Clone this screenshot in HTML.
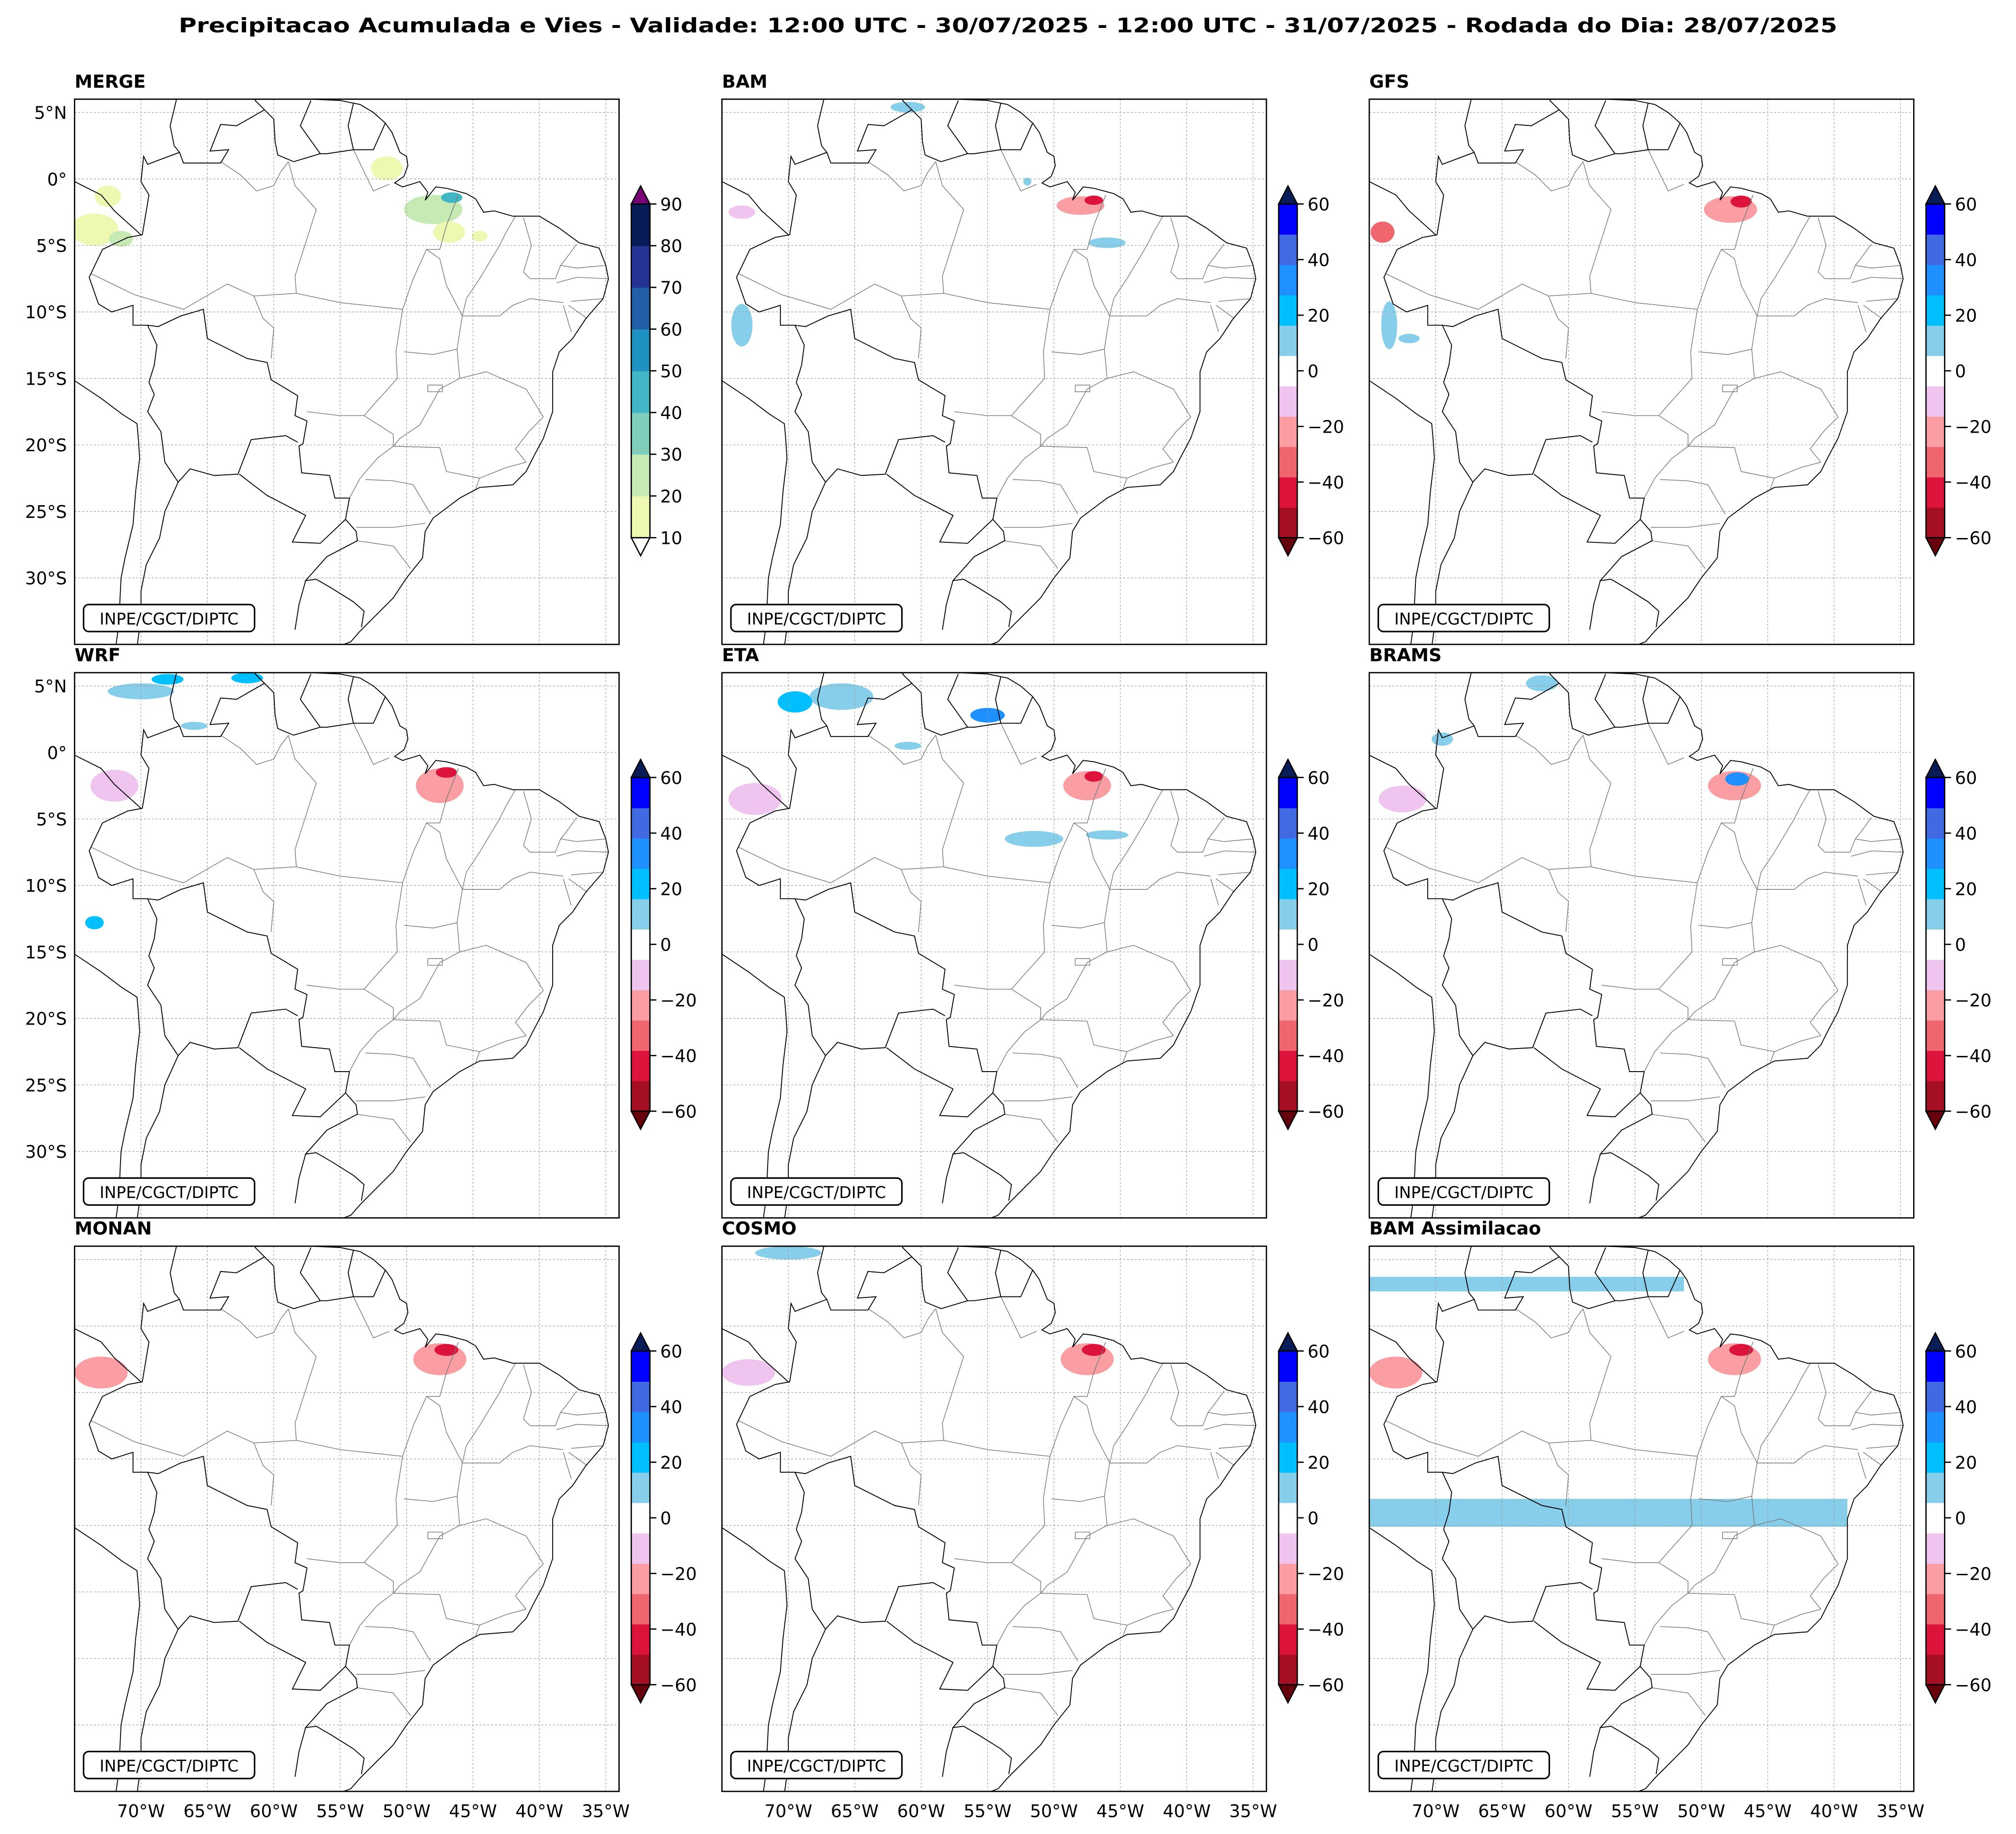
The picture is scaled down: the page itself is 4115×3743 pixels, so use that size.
<!DOCTYPE html>
<html><head><meta charset="utf-8"><style>
html,body{margin:0;padding:0;background:#fff}
svg{display:block}
text{font-family:"DejaVu Sans","Liberation Sans",sans-serif}
</style></head><body>
<svg id="fig" xmlns="http://www.w3.org/2000/svg" width="4115" height="3743" viewBox="0 0 1568 1426">
<rect width="1568" height="1426" fill="#fff"/>
<text x="784" y="25" text-anchor="middle" font-weight="bold" font-size="15.5" textLength="1290" lengthAdjust="spacingAndGlyphs">Precipitacao Acumulada e Vies - Validade: 12:00 UTC - 30/07/2025 - 12:00 UTC - 31/07/2025 - Rodada do Dia: 28/07/2025</text>
<defs id="defs"></defs>
<g id="panels"></g>
</svg>
<script>
const panelNames = ["MERGE","BAM","GFS","WRF","ETA","BRAMS","MONAN","COSMO","BAM Assimilacao"];
const mergeLevels = [10,20,30,40,50,60,70,80,90];
const mergeColors = ["#edf8b1","#c7e9b4","#7fcdbb","#41b6c4","#1d91c0","#225ea8","#253494","#081d58"];
const biasLevels = [-60,-50,-40,-30,-20,-10,10,20,30,40,50,60];
const biasTicks = [60,40,20,0,-20,-40,-60];
const biasColors = ["#a50f24","#dc143c","#f0666e","#fa9ea3","#efc5ef","#ffffff","#87ceeb","#00bfff","#1e90ff","#4169e1","#0000ff"];
const latTicks = [5,0,-5,-10,-15,-20,-25,-30];
const lonTicks = [-70,-65,-60,-55,-50,-45,-40,-35];

const LON0=-75, LON1=-34, LAT0=-35, LAT1=6;
const W=423.5, H=424;
const colX=[58,561.5,1065], rowY=[77,523,969];
const K=W/(LON1-LON0), KY=H/(LAT1-LAT0);
function gx(lon){return (lon-LON0)*K;}
function gy(lat){return (LAT1-lat)*KY;}

const coast=[[-57.2,6],[-55,5.9],[-53.5,5.6],[-52.5,5],[-51.6,4.2],[-51.1,3.5],[-50.5,2],[-50,1.7],[-49.9,1],[-50.2,0.2],[-50.9,-0.3],[-50.3,-0.6],[-49,-0.2],[-48.4,-1],[-48.6,-1.6],[-47.8,-0.6],[-47,-0.7],[-45.5,-1.1],[-44.8,-1.5],[-44.2,-2.5],[-43.4,-2.4],[-42,-2.8],[-40,-2.8],[-38.5,-3.7],[-37,-4.8],[-35.5,-5.2],[-35,-6.5],[-34.8,-7.5],[-35.2,-9],[-36.5,-10.5],[-37.5,-12],[-38.5,-13],[-39,-14.5],[-39,-17.5],[-39.7,-19.5],[-40.5,-21],[-41,-22],[-42,-23],[-44.5,-23.2],[-46,-24],[-48,-25.5],[-48.6,-26.5],[-48.8,-28.5],[-50,-30],[-51,-31.5],[-52.5,-33],[-53.5,-34],[-54.2,-34.8],[-55,-35.1]];
const westCoast=[[-75.1,-15.1],[-73,-16.5],[-71.4,-17.7],[-70.3,-18.4],[-70.2,-19.5],[-70.1,-21],[-70.4,-23.5],[-70.6,-26],[-71.2,-28.5],[-71.5,-30],[-71.6,-32],[-71.6,-33],[-71.9,-35.2]];
const countries=[
[[-51.6,4.2],[-52.5,2.2],[-54,2.2],[-56,1.9],[-56.5,1.9],[-58.5,1.3],[-59.7,1.8],[-59.9,2.8],[-60,4.5],[-60.7,5.2],[-62.8,4],[-64,4.1],[-64.8,2.1],[-63.4,2.2],[-64,1.2],[-66.8,1.2],[-67.1,2],[-69.5,1.1],[-69.8,1.7],[-70,-0.2],[-69.4,-1.2],[-69.9,-4.2],[-71,-4.4],[-72.9,-5.3],[-73.9,-7.4],[-73.2,-9.4],[-72.2,-10],[-70.6,-9.5],[-70.6,-11],[-69.5,-11],[-68.7,-11.1],[-67,-10.3],[-65.3,-9.8],[-65,-12],[-62,-13.5],[-60.5,-13.8],[-60.2,-15.1],[-58.2,-16.3],[-58.4,-17.8],[-57.5,-18.2],[-57.8,-19.9],[-58.1,-20.1],[-57.9,-22.1],[-55.8,-22.3],[-55.4,-24],[-54.3,-24],[-54.6,-25.6],[-53.8,-26.5],[-53.7,-27.2],[-56,-28.4],[-57.6,-30.2],[-56.8,-30.1],[-55.6,-30.8],[-54,-31.8],[-53.2,-32.5],[-53.4,-33.7]],
[[-67.3,6.1],[-67.8,4],[-67.5,2.5],[-67.1,2]],
[[-60.7,5.2],[-61.4,5.9],[-61.2,6.2]],
[[-57.2,5.9],[-58,4],[-56.5,1.9]],
[[-54,5.7],[-54.4,4],[-54,2.2]],
[[-75.2,-0.1],[-73,-1.2],[-72,-2.4],[-70,-4.2]],
[[-69.5,-11],[-68.8,-12.5],[-69,-14],[-69.4,-15.3],[-69,-16.2],[-69.5,-17.5],[-68.5,-19],[-68.2,-21.3],[-67.2,-22.8],[-68.2,-25],[-68.6,-27],[-69.6,-29],[-70,-31],[-70,-33],[-70.3,-35.2]],
[[-67.2,-22.8],[-66.3,-21.8],[-64.5,-22.3],[-62.7,-22.2],[-61.7,-19.6],[-59.1,-19.3],[-58.2,-19.8]],
[[-62.6,-22.2],[-60.5,-23.8],[-57.6,-25.3],[-58.6,-27.3],[-56.5,-27.4],[-54.6,-25.6]],
[[-57.6,-30.2],[-58.1,-32],[-58.4,-33.9]]
];
const states=[
[[-64,1.3],[-62.5,0.3],[-61.3,-0.9],[-60,-0.5],[-59.5,0.5],[-58.9,1.3]],
[[-54,2.2],[-52.5,-0.9],[-51.3,-0.4]],
[[-58.9,1.3],[-58.4,-0.5],[-56.8,-2.3],[-58.4,-7.3],[-58.3,-8.6],[-61.5,-8.8],[-63.5,-7.9],[-66.8,-9.8],[-70.5,-8.7],[-73.8,-7.1]],
[[-58.3,-8.6],[-55,-9.3],[-50.3,-9.8]],
[[-50.3,-9.8],[-49.5,-7.5],[-48.5,-5.3],[-47.5,-5.3],[-47,-3.5],[-46.1,-1.2]],
[[-61.5,-8.8],[-60.8,-10.5],[-60,-11.2],[-60.2,-13.5]],
[[-50.3,-9.8],[-50.8,-13],[-50.7,-15],[-52.5,-17],[-53.2,-17.8],[-55,-17.8],[-57.5,-17.5]],
[[-53.2,-17.8],[-51,-19.2],[-51,-20.1],[-52.2,-21],[-53.5,-22.5],[-54.3,-24]],
[[-50.2,-13],[-48,-13.2],[-46.2,-12.8]],
[[-46.2,-12.8],[-46,-11.5],[-45.8,-10.3],[-47,-8],[-47.5,-6],[-48.5,-5.3]],
[[-41.8,-2.8],[-42.5,-4],[-43,-5],[-44.5,-7.5],[-45.5,-9],[-45.8,-10.3]],
[[-41.2,-2.9],[-40.6,-5],[-41.2,-7],[-40.7,-7.5]],
[[-37.2,-4.9],[-38,-6],[-38.4,-6.5]],
[[-35,-6.5],[-37.2,-6.7],[-38.4,-6.5],[-38.8,-7.5],[-40.7,-7.5]],
[[-34.8,-7.5],[-37.2,-7.4],[-38.7,-7.8]],
[[-45.8,-10.3],[-43,-10.3],[-42,-9.5],[-40.7,-9],[-38.2,-9.3]],
[[-35.2,-9],[-37.6,-9.2]],
[[-36.4,-10.5],[-37.8,-9.5]],
[[-37.6,-11.5],[-38.2,-9.5]],
[[-39.7,-17.9],[-41,-15.8],[-44,-14.5],[-46,-15],[-46.2,-12.8]],
[[-46,-15],[-47.5,-15.8],[-49,-18.5],[-50.5,-19.5],[-51,-20.1]],
[[-39.7,-17.9],[-40.8,-19],[-41.8,-20.3],[-41,-21.3]],
[[-41,-21.3],[-42.5,-21.7],[-44.5,-22.5],[-44.8,-23.3]],
[[-44.5,-22.5],[-47,-22],[-47.5,-20.2],[-51,-20.1]],
[[-53.1,-22.6],[-51,-22.7],[-49.5,-23],[-48.2,-25.2]],
[[-53.8,-26.2],[-51,-26.2],[-48.6,-25.9]],
[[-53.8,-27.2],[-51,-27.6],[-49.7,-29.3]],
[[-48.4,-15.5],[-47.3,-15.5],[-47.3,-16],[-48.4,-16],[-48.4,-15.5]]
];
// precipitation features per panel: [lon, lat, rx(deg), ry(deg), colorIndex-key]
const blobsMerge=[[-73.5,-3.8,1.8,1.2,0],[-72.5,-1.3,1,0.8,0],[-71.5,-4.5,0.9,0.6,1],[-48,-2.3,2.2,1.1,1],[-51.5,0.8,1.2,0.9,0],[-46.8,-4,1.2,0.8,0],[-46.6,-1.4,0.8,0.4,3],[-44.5,-4.3,0.6,0.4,0]];
const blobsBias={
BAM:[[-73.5,-2.5,1,0.5,"n1"],[-48,-2,1.8,0.7,"n2"],[-47,-1.6,0.7,0.35,"n4"],[-73.5,-11,0.8,1.6,"p1"],[-61,5.4,1.3,0.4,"p1"],[-46,-4.8,1.4,0.4,"p1"],[-52,-0.2,0.3,0.3,"p1"]],
GFS:[[-74,-4,0.9,0.8,"n3"],[-47.8,-2.3,2,1,"n2"],[-47,-1.7,0.8,0.45,"n4"],[-73.5,-11,0.6,1.8,"p1"],[-72,-12,0.8,0.35,"p1"]],
WRF:[[-72,-2.5,1.8,1.2,"n1"],[-47.5,-2.5,1.8,1.3,"n2"],[-47,-1.5,0.8,0.4,"n4"],[-70,4.6,2.5,0.6,"p1"],[-68,5.5,1.2,0.4,"p2"],[-73.5,-12.8,0.7,0.5,"p2"],[-62,5.6,1.2,0.4,"p2"],[-66,2,1,0.3,"p1"]],
ETA:[[-72.5,-3.5,2,1.2,"n1"],[-47.5,-2.5,1.8,1.1,"n2"],[-47,-1.8,0.7,0.4,"n4"],[-66,4.2,2.4,1,"p1"],[-69.5,3.8,1.3,0.8,"p2"],[-55,2.8,1.3,0.55,"p3"],[-51.5,-6.5,2.2,0.6,"p1"],[-46,-6.2,1.6,0.35,"p1"],[-61,0.5,1,0.3,"p1"]],
BRAMS:[[-72.5,-3.5,1.8,1,"n1"],[-47.5,-2.5,2,1.1,"n2"],[-47.3,-2,0.9,0.5,"p3"],[-69.5,1,0.8,0.5,"p1"],[-62,5.2,1.2,0.6,"p1"]],
MONAN:[[-73,-3.5,2,1.2,"n2"],[-47.5,-2.5,2,1.2,"n2"],[-47,-1.8,0.9,0.45,"n4"]],
COSMO:[[-73,-3.5,2,1,"n1"],[-47.5,-2.5,2,1.2,"n2"],[-47,-1.8,0.9,0.45,"n4"],[-70,5.5,2.5,0.5,"p1"]],
"BAM Assimilacao":[[-73,-3.5,2,1.2,"n2"],[-47.5,-2.5,2,1.2,"n2"],[-47,-1.8,0.9,0.45,"n4"]]
};
const bandsAssim=[[-75,3.7,-51.3,2.6],[-75,-13,-39,-15.1]];
const biasKey={n1:"#efc5ef",n2:"#fa9ea3",n3:"#f0666e",n4:"#dc143c",p1:"#87ceeb",p2:"#00bfff",p3:"#1e90ff"};

const NS="http://www.w3.org/2000/svg";
function mk(tag,attrs,parent){const e=document.createElementNS(NS,tag);for(const k in attrs)e.setAttribute(k,attrs[k]);if(parent)parent.appendChild(e);return e;}
function pts(line){return line.map(p=>gx(p[0]).toFixed(2)+","+gy(p[1]).toFixed(2)).join(" ");}

const defs=document.getElementById("defs");
const geo=mk("g",{id:"geo",fill:"none"},defs);
states.forEach(l=>mk("polyline",{points:pts(l),stroke:"#7a7a7a","stroke-width":0.55},geo));
countries.forEach(l=>mk("polyline",{points:pts(l),stroke:"#000","stroke-width":0.7},geo));
mk("polyline",{points:pts(coast),stroke:"#000","stroke-width":0.7},geo);
mk("polyline",{points:pts(westCoast),stroke:"#000","stroke-width":0.7},geo);
const cp=mk("clipPath",{id:"mapclip"},defs);mk("rect",{x:0,y:0,width:W,height:H},cp);

const panels=document.getElementById("panels");
panelNames.forEach((name,i)=>{
  const c=i%3,r=Math.floor(i/3),x0=colX[c],y0=rowY[r];
  const slug=name.toLowerCase().replace(/ /g,"-");
  const g=mk("g",{transform:`translate(${x0},${y0})`},panels);
  
  
  const t=mk("text",{x:0,y:-9,"font-weight":"bold","font-size":"14"},g);t.textContent=name;
  
  
  const inner=mk("g",{"clip-path":"url(#mapclip)"},g);
  
  
  if(name==="MERGE"){
    blobsMerge.forEach(b=>{const e=mk("ellipse",{cx:gx(b[0]),cy:gy(b[1]),rx:b[2]*K,ry:b[3]*KY,fill:mergeColors[b[4]]},inner);
      
      });
  } else {
    if(name==="BAM Assimilacao"){bandsAssim.forEach(b=>{const e=mk("rect",{x:gx(b[0]),y:gy(b[1]),width:gx(b[2])-gx(b[0]),height:gy(b[3])-gy(b[1]),fill:"#87ceeb"},inner);
      
      });}
    (blobsBias[name]||[]).forEach(b=>{const e=mk("ellipse",{cx:gx(b[0]),cy:gy(b[1]),rx:b[2]*K,ry:b[3]*KY,fill:biasKey[b[4]]},inner);
      
      });
  }
  latTicks.forEach(l=>mk("line",{x1:0,x2:W,y1:gy(l),y2:gy(l),stroke:"#999","stroke-width":0.45,"stroke-dasharray":"1.5,1.5"},inner));
  lonTicks.forEach(l=>mk("line",{y1:0,y2:H,x1:gx(l),x2:gx(l),stroke:"#999","stroke-width":0.45,"stroke-dasharray":"1.5,1.5"},inner));
  mk("use",{href:"#geo"},inner);
  const fr=mk("rect",{x:0,y:0,width:W,height:H,fill:"none",stroke:"#000","stroke-width":1},g);
  
  
  const cb=mk("g",{},g);
  
  
  mk("rect",{x:7,y:H-31,width:133,height:21,rx:4,fill:"#fff",stroke:"#000","stroke-width":1.2},cb);
  const ct=mk("text",{x:73.5,y:H-15.5,"text-anchor":"middle","font-size":"12.5"},cb);ct.textContent="INPE/CGCT/DIPTC";
  if(c===0 && r<2){latTicks.forEach(l=>{const lt=mk("text",{x:-6,y:gy(l)+5,"text-anchor":"end","font-size":"13.5"},g);
    lt.textContent=(l>0?l+"°N":l<0?(-l)+"°S":"0°");
    
    });}
  if(r===2){lonTicks.forEach(l=>{const lt=mk("text",{x:gx(l),y:H+20,"text-anchor":"middle","font-size":"13.5"},g);
    lt.textContent=(-l)+"°W";
    
    });}
  const cbg=mk("g",{transform:`translate(${W+9.5},0)`},g);
  
  
  const bt=81.5, bb=341, bw=14.5;
  const isM=name==="MERGE";
  const cols=isM?mergeColors:biasColors;
  const n=cols.length, sh=(bb-bt)/n;
  cols.forEach((col,k)=>mk("rect",{x:0,y:bb-(k+1)*sh,width:bw,height:sh+0.3,fill:col},cbg));
  mk("polygon",{points:`0,${bt} ${bw/2},${bt-14} ${bw},${bt}`,fill:isM?"#7a0177":"#081d58",stroke:"#000","stroke-width":1},cbg);
  mk("polygon",{points:`0,${bb} ${bw/2},${bb+14} ${bw},${bb}`,fill:isM?"#ffffff":"#67000d",stroke:"#000","stroke-width":1},cbg);
  mk("rect",{x:0,y:bt,width:bw,height:bb-bt,fill:"none",stroke:"#000","stroke-width":1},cbg);
  const ticks=isM?mergeLevels:biasTicks;
  ticks.forEach(v=>{
    let yy= isM ? bb-(v-10)/80*(bb-bt) : bb-(v+60)/120*(bb-bt);
    mk("line",{x1:bw,x2:bw+5,y1:yy,y2:yy,stroke:"#000","stroke-width":1},cbg);
    const tt=mk("text",{x:bw+8,y:yy+5,"font-size":"13.5"},cbg);tt.textContent=(v<0?"\u2212"+(-v):String(v));
    
    
  });
});
</script>
</body></html>
